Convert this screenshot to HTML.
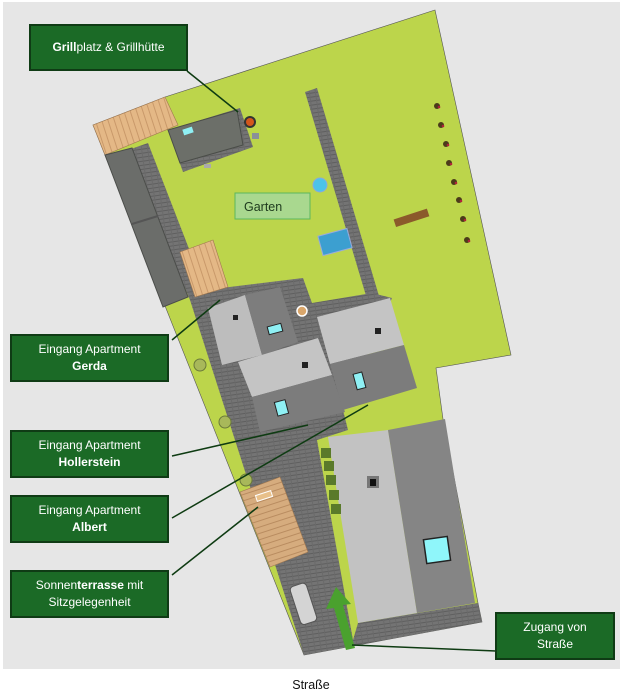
<!DOCTYPE html>
<html><head><meta charset="utf-8"><style>
html,body{margin:0;padding:0;background:#fff;}
body{width:623px;height:695px;position:relative;overflow:hidden;font-family:"Liberation Sans",sans-serif;}
.lb{position:absolute;box-sizing:border-box;background:#1b6a26;border:2px solid #0f3b15;color:#fff;font-size:12px;line-height:17px;text-align:center;display:flex;flex-direction:column;justify-content:center;}
.lb b{font-weight:bold;}
</style></head><body>
<svg width="623" height="695" style="position:absolute;left:0;top:0">
<defs>
<pattern id="pv" width="6" height="4" patternUnits="userSpaceOnUse" patternTransform="rotate(-8)">
<rect width="6" height="4" fill="#747474"/><rect y="3" width="6" height="1" fill="#5f5f5f"/><rect x="5" width="1" height="4" fill="#6a6a6a"/>
</pattern>
<pattern id="wd" width="6" height="6" patternUnits="userSpaceOnUse" patternTransform="rotate(-18)">
<rect width="6" height="6" fill="#e4b886"/><rect x="5" width="1" height="6" fill="#c9996a"/>
</pattern>
<pattern id="wd2" width="6" height="6" patternUnits="userSpaceOnUse" patternTransform="rotate(-18)">
<rect width="6" height="6" fill="#d6ac7e"/><rect y="5" width="6" height="1" fill="#b98c60"/>
</pattern>
</defs>
<rect x="3" y="2" width="617" height="667" fill="#e6e6e6"/>
<!-- lawn -->
<polygon points="93,125 165,97 435,10 511,355 436,368 443,419 478,603 482,622 304,655" fill="#bcd54b" stroke="#555" stroke-width="0.6"/>
<!-- paving -->
<polygon points="128,150 148,143 205,290 303,278 312,303 372,293 392,298 343,410 348,430 317,440 353,640 358,623 478,603 482,622 304,655 190,300" fill="url(#pv)"/>
<polygon points="305,92 317,88 379,296 367,299" fill="url(#pv)"/>
<polygon points="168,130 240,108 253,147 183,172" fill="url(#pv)"/>
<!-- grill hut -->
<polygon points="168,130 237,110 243,145 180,163" fill="#6c6f69" stroke="#4a4d48" stroke-width="1"/>
<rect x="183" y="128" width="10" height="6" fill="#8ff0f4" transform="rotate(-18 188 131)"/>
<circle cx="250" cy="122" r="6" fill="#333"/><circle cx="250" cy="122" r="4" fill="#d4561c"/>
<rect x="252" y="133" width="7" height="6" fill="#8a8f9a"/>
<rect x="204" y="164" width="7" height="4" fill="#aaa"/>
<!-- top deck -->
<polygon points="93,125 165,97 178,125 105,155" fill="url(#wd)" stroke="#a07850" stroke-width="0.6"/>
<!-- dark roof -->
<polygon points="105,155 132,148 188,297 163,307" fill="#6b6d6a" stroke="#4b4d4a" stroke-width="1"/>
<line x1="132" y1="224" x2="158" y2="216" stroke="#555" stroke-width="2"/>
<!-- small deck -->
<polygon points="180,252 213,240 228,287 195,297" fill="url(#wd)" stroke="#a07850" stroke-width="0.6"/>
<!-- building A -->
<polygon points="208,308 245,295 262,355 222,365" fill="#bdbdbd"/>
<polygon points="245,295 280,287 298,342 262,355" fill="#7d7d7d"/>
<rect x="233" y="315" width="5" height="5" fill="#222"/>
<rect x="268" y="325" width="14" height="8" fill="#8ff0f4" stroke="#222" stroke-width="1" transform="rotate(-15 275 329)"/>
<!-- building C -->
<polygon points="238,362 318,338 332,375 252,397" fill="#c4c4c4"/>
<polygon points="252,397 332,375 345,412 260,432" fill="#7c7c7c"/>
<rect x="302" y="362" width="6" height="6" fill="#222"/>
<rect x="276" y="401" width="11" height="14" fill="#8ff0f4" stroke="#222" stroke-width="1" transform="rotate(-15 281 408)"/>
<!-- building B -->
<polygon points="317,317 390,298 404,345 330,364" fill="#c4c4c4"/>
<polygon points="330,364 404,345 417,388 343,410" fill="#7c7c7c"/>
<rect x="375" y="328" width="6" height="6" fill="#222"/>
<rect x="355" y="373" width="9" height="16" fill="#8ff0f4" stroke="#222" stroke-width="1" transform="rotate(-15 359 381)"/>
<!-- table near buildings -->
<circle cx="302" cy="311" r="5" fill="#d9a66b" stroke="#fff" stroke-width="1.5"/>
<!-- big building -->
<polygon points="328,437 388,430 417,613 358,623" fill="#c2c2c2"/>
<polygon points="388,430 445,419 475,603 417,613" fill="#858585"/>
<rect x="367" y="476" width="12" height="12" fill="#777"/><rect x="370" y="479" width="6" height="7" fill="#111"/>
<rect x="425" y="538" width="24" height="24" fill="#8ff6fa" stroke="#222" stroke-width="1.5" transform="rotate(-8 437 550)"/>
<!-- hedges -->
<rect x="321" y="448" width="10" height="10" fill="#5a7a2a"/>
<rect x="324" y="461" width="10" height="10" fill="#5a7a2a"/>
<rect x="326" y="475" width="10" height="10" fill="#5a7a2a"/>
<rect x="329" y="490" width="10" height="10" fill="#5a7a2a"/>
<rect x="331" y="504" width="10" height="10" fill="#5a7a2a"/>
<!-- sun deck -->
<polygon points="240,492 280,477 308,552 270,567" fill="url(#wd2)" stroke="#a07850" stroke-width="0.6"/>
<rect x="256" y="493" width="16" height="6" fill="#e8c08a" stroke="#fff" stroke-width="1" transform="rotate(-18 264 496)"/>
<!-- car -->
<rect x="295" y="584" width="17" height="40" rx="4" fill="#d4d4d4" stroke="#555" stroke-width="1" transform="rotate(-18 303 604)"/>
<!-- arrow -->
<polygon points="346,650 355,648 343,605 351,604 336,587 326,609 334,608" fill="#4aa12e"/>
<!-- trees left -->
<g fill="#a8b85a" stroke="#6b7a3a" stroke-width="1"><circle cx="200" cy="365" r="6"/><circle cx="225" cy="422" r="6"/><circle cx="246" cy="480" r="6"/></g>
<!-- trees right -->
<g fill="#4b3b1a"><circle cx="437" cy="106" r="3"/><circle cx="441" cy="125" r="3"/><circle cx="446" cy="144" r="3"/><circle cx="449" cy="163" r="3"/><circle cx="454" cy="182" r="3"/><circle cx="459" cy="200" r="3"/><circle cx="463" cy="219" r="3"/><circle cx="467" cy="240" r="3"/></g>
<g fill="#b0223a"><circle cx="439" cy="107" r="1.3"/><circle cx="443" cy="126" r="1.3"/><circle cx="448" cy="145" r="1.3"/><circle cx="451" cy="164" r="1.3"/><circle cx="456" cy="183" r="1.3"/><circle cx="461" cy="201" r="1.3"/><circle cx="465" cy="220" r="1.3"/><circle cx="469" cy="241" r="1.3"/></g>
<!-- pool, bench, greenhouse -->
<circle cx="320" cy="185" r="7" fill="#4cc3ea" stroke="#8ad" stroke-width="1"/>
<rect x="394" y="214" width="35" height="8" fill="#8b5a2b" transform="rotate(-18 411 218)"/>
<rect x="320" y="232" width="30" height="20" fill="#3c9fd0" stroke="#9ad" stroke-width="1" transform="rotate(-15 335 242)"/>
<!-- garten label -->
<rect x="235" y="193" width="75" height="26" fill="#a9d88f" stroke="#5cb85c" stroke-width="1"/>
<text x="244" y="211" font-family="Liberation Sans, sans-serif" font-size="12.5" fill="#1d3a1d">Garten</text>
<!-- connectors -->
<g stroke="#0e3b12" stroke-width="1.5">
<line x1="187" y1="71" x2="238" y2="112"/>
<line x1="172" y1="340" x2="220" y2="300"/>
<line x1="172" y1="456" x2="308" y2="425"/>
<line x1="172" y1="518" x2="368" y2="405"/>
<line x1="172" y1="575" x2="258" y2="507"/>
<line x1="496" y1="651" x2="352" y2="645"/>
</g>
<text x="311" y="689" text-anchor="middle" font-family="Liberation Sans, sans-serif" font-size="12.5" fill="#111">Straße</text>
</svg>
<div class="lb" style="left:29px;top:24px;width:159px;height:47px;"><div><b>Grill</b>platz &amp; Grillhütte</div></div>
<div class="lb" style="left:10px;top:334px;width:159px;height:48px;"><div>Eingang Apartment</div><div><b>Gerda</b></div></div>
<div class="lb" style="left:10px;top:430px;width:159px;height:48px;"><div>Eingang Apartment</div><div><b>Hollerstein</b></div></div>
<div class="lb" style="left:10px;top:495px;width:159px;height:48px;"><div>Eingang Apartment</div><div><b>Albert</b></div></div>
<div class="lb" style="left:10px;top:570px;width:159px;height:48px;"><div>Sonnen<b>terrasse</b> mit</div><div>Sitzgelegenheit</div></div>
<div class="lb" style="left:495px;top:612px;width:120px;height:48px;"><div>Zugang von</div><div>Straße</div></div>
</body></html>
